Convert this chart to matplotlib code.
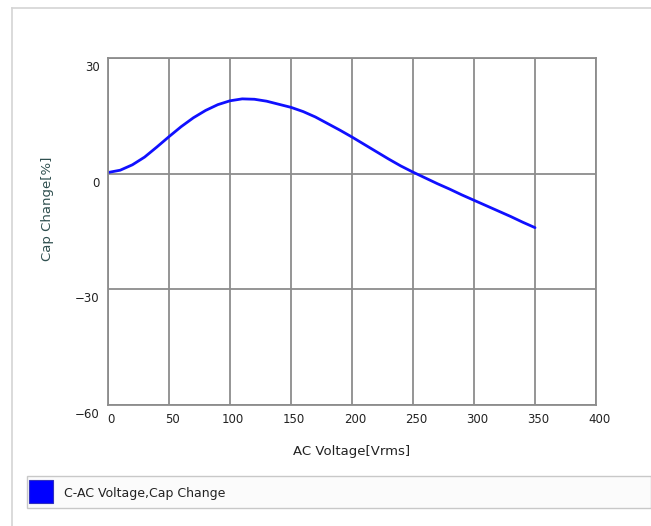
import matplotlib.pyplot as plt
import matplotlib.transforms as mtransforms
from matplotlib.patches import Rectangle
from matplotlib.lines import Line2D

# data
voltage = [0, 10, 20, 30, 40, 50, 60, 70, 80, 90, 100, 110, 120, 130, 140, 150,
           160, 170, 180, 190, 200, 210, 220, 230, 240, 250, 260, 270, 280, 290,
           300, 310, 320, 330, 340, 350]
cap_change = [0.3, 0.9, 2.3, 4.3, 6.9, 9.6, 12.2, 14.5, 16.4, 17.9, 18.9, 19.4,
              19.3, 18.8, 18.0, 17.2, 16.1, 14.7, 13.0, 11.3, 9.5, 7.6, 5.7, 3.8,
              2.0, 0.4, -1.1, -2.6, -4.0, -5.5, -6.9, -8.3, -9.7, -11.1, -12.6, -14.0]
x_ticks = [0, 50, 100, 150, 200, 250, 300, 350, 400]
y_ticks = [-60, -30, 0, 30]
series_name = "C-AC Voltage,Cap Change"

W, H = 651, 526
fig = plt.figure(figsize=(W / 100, H / 100), dpi=100)
fig.patch.set_facecolor("white")

# outer frame (light grey)
fig.add_artist(Line2D([12 / W, 12 / W], [0, 1 - 8 / H], color="#d4d4d4", lw=1.2))
fig.add_artist(Line2D([12 / W, 1], [1 - 8 / H, 1 - 8 / H], color="#d4d4d4", lw=1.2))

ax = fig.add_axes([108 / W, 1 - 405 / H, (596 - 108) / W, (405 - 58) / H])
ax.plot(voltage, cap_change, color="#1010ff", lw=2.0, solid_capstyle="round")
ax.set_xlim(0, 400)
ax.set_ylim(-60, 30)
ax.set_xticks(x_ticks)
ax.set_yticks(y_ticks)
ax.grid(True, color="#8c8c8c", lw=1.3)
ax.set_axisbelow(True)
for s in ax.spines.values():
    s.set_color("#8c8c8c")
    s.set_linewidth(1.3)
ax.tick_params(length=0, labelsize=8.5, colors="#222222", pad=6)

# shift y tick labels down, x tick labels slightly right
for lab in ax.get_yticklabels():
    lab.set_transform(lab.get_transform() + mtransforms.ScaledTranslation(0, -8 / 100, fig.dpi_scale_trans))
for lab in ax.get_xticklabels():
    lab.set_transform(lab.get_transform() + mtransforms.ScaledTranslation(3 / 100, 0, fig.dpi_scale_trans))

fig.text(48 / W, 1 - 209 / H, "Cap Change[%]", rotation=90, ha="center", va="center",
         fontsize=9.5, color="#2f4f4f")
fig.text(352 / W, 1 - 452 / H, "AC Voltage[Vrms]", ha="center", va="center",
         fontsize=9.5, color="#222222")

# legend strip
fig.add_artist(Rectangle((27 / W, 1 - 508 / H), (W - 27) / W, 32 / H,
                         transform=fig.transFigure, facecolor="#fbfbfb",
                         edgecolor="#c8c8c8", lw=1.0))
fig.add_artist(Rectangle((29 / W, 1 - 503 / H), 24 / W, 23 / H,
                         transform=fig.transFigure, facecolor="#0000ff",
                         edgecolor="#3030c0", lw=0.8))
fig.text(64 / W, 1 - 493 / H, series_name, ha="left", va="center",
         fontsize=9, color="#222222")

fig.savefig("out.png", dpi=100)
